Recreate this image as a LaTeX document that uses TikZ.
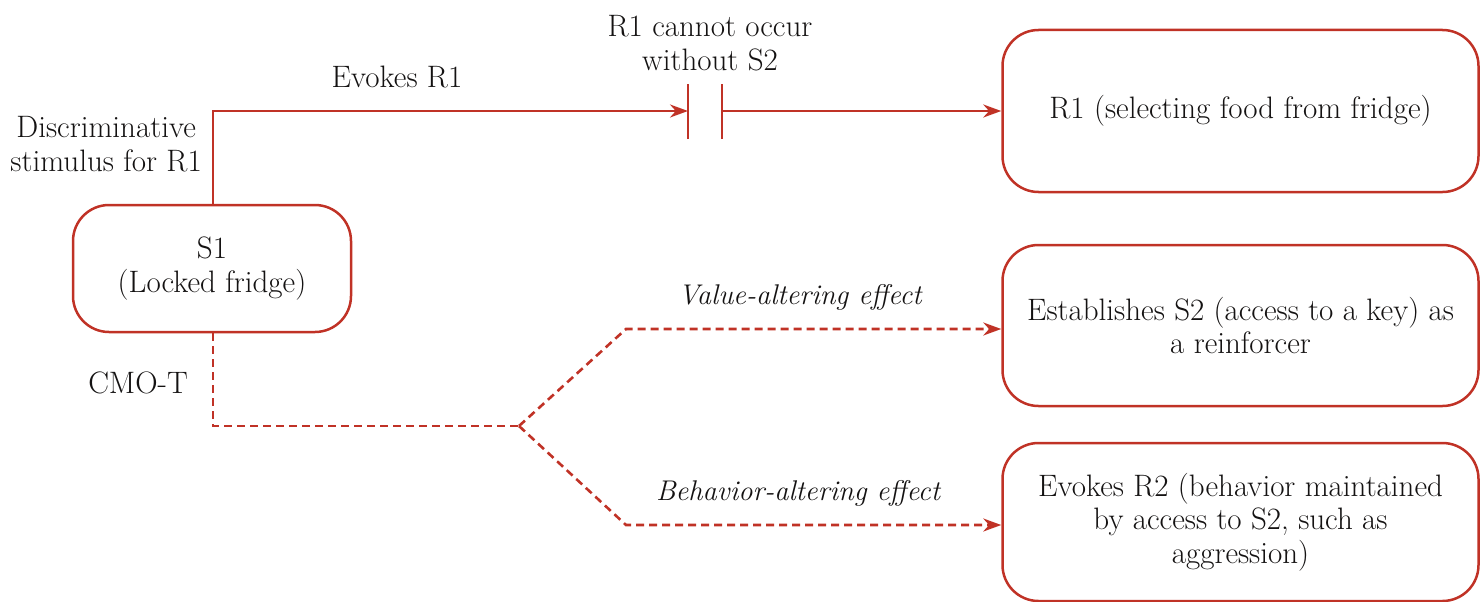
\documentclass[tikz,border=0pt]{standalone}
\usetikzlibrary{arrows.meta}
\definecolor{lred}{RGB}{192,50,38}
\definecolor{ink}{RGB}{20,18,18}
\tikzset{
  box/.style={draw=lred, line width=2.5pt, rounded corners=36pt, align=center, text=ink, inner sep=0pt},
  conn/.style={draw=lred, line width=2.6pt},
  tip/.style={-{Stealth[length=18pt,width=13pt]}},
  dsh/.style={dash pattern=on 8pt off 5pt},
  lbl/.style={text=ink, align=center, inner sep=0pt},
  itl/.style={lbl, font=\fontsize{28.5}{33.5}\selectfont\itshape},
}
\begin{document}
\begin{tikzpicture}[x=1pt,y=-1pt,font=\fontsize{31}{33.5}\selectfont]
\useasboundingbox (0,0) rectangle (1480,602);
% boxes
\node[box, minimum width=278pt, minimum height=127pt] (s1) at (212,268.5) {S1\\(Locked fridge)};
\node[box, minimum width=476pt, minimum height=162pt] (r1) at (1240.5,111) {R1 (selecting food from fridge)};
\node[box, minimum width=476pt, minimum height=161pt] (est) at (1240.5,325.5) {Establishes S2 (access to a key) as\\a reinforcer};
\node[box, minimum width=476pt, minimum height=158pt] (ev) at (1240.5,522) {Evokes R2 (behavior maintained\\by access to S2, such as\\aggression)};
% coordinates
\coordinate (corner) at (213,111);
\coordinate (bl) at (688,111);
\coordinate (br) at (722,111);
\coordinate (split) at (519,426);
\coordinate (up) at (626,329);
\coordinate (dn) at (626,525);
% top connector
\draw[conn, tip] (s1.north -| corner) -- (corner) -- (bl);
\draw[conn] ([yshift=-28pt]bl) -- ([yshift=27pt]bl);
\draw[conn] ([yshift=-28pt]br) -- ([yshift=27pt]br);
\draw[conn, tip] (br) -- (r1.west);
% dashed connectors
\draw[conn, dsh] (s1.south -| corner) |- (split);
\draw[conn, dsh, tip] (split) -- (up) -- (up -| est.west);
\draw[conn, dsh, tip] (split) -- (dn) -- (dn -| ev.west);
% labels
\node[lbl, anchor=east] (disc) at (202,144) {Discriminative\\stimulus for R1};
\node[lbl] (evk) at (397,77) {Evokes R1};
\node[lbl] (cannot) at (710,43) {R1 cannot occur\\without S2};
\node[lbl] (cmo) at (138,383) {CMO-T};
\node[itl] (val) at (800,297) {Value-altering effect};
\node[itl] (beh) at (798,493) {Behavior-altering effect};
\end{tikzpicture}
\end{document}
